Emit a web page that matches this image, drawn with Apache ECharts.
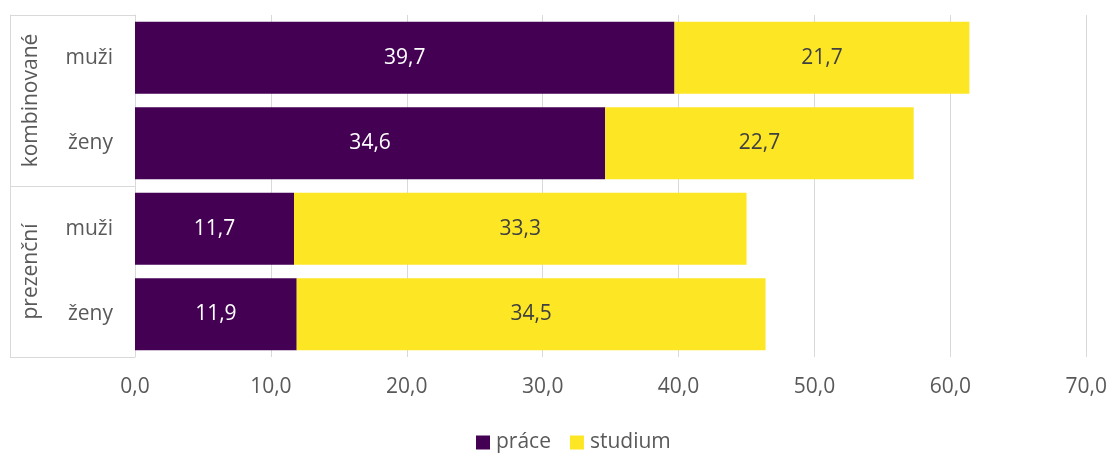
<!DOCTYPE html>
<html><head><meta charset="utf-8">
<script src="https://cdn.jsdelivr.net/npm/echarts@6/dist/echarts.min.js"></script>
<style>html,body{margin:0;padding:0;background:#fff}#c{width:1110px;height:453px}</style>
</head><body><div id="c"></div>
<script>
const categories = ['muži', 'ženy', 'muži', 'ženy'];
const groups = ['kombinované', 'prezenční'];
const prace = [39.7, 34.6, 11.7, 11.9];
const studium = [21.7, 22.7, 33.3, 34.5];
const seriesNames = ['práce', 'studium'];
const FONT = 'Open Sans';
const FS = 21;
const fmt = v => v.toFixed(1).replace('.', ',');
const chart = echarts.init(document.getElementById('c'));
chart.setOption({
  animation: false,
  textStyle: { fontFamily: FONT },
  grid: { left: 135, right: 23, top: 15, bottom: 96, containLabel: false },
  legend: {
    top: 427, left: 471, itemWidth: 14, itemHeight: 14, itemGap: 19,
    icon: 'rect',
    textStyle: { fontFamily: FONT, fontSize: FS, color: '#595959', padding: [0, 0, 0, 1] },
    data: seriesNames
  },
  xAxis: {
    type: 'value', min: 0, max: 70, interval: 10,
    axisLine: { show: false }, axisTick: { show: false },
    splitLine: { lineStyle: { color: '#d9d9d9', width: 1 } },
    axisLabel: { formatter: fmt, color: '#595959', fontSize: FS, margin: 20, fontFamily: FONT }
  },
  yAxis: [{
    type: 'category', data: categories, inverse: true,
    axisLine: { show: true, lineStyle: { color: '#d9d9d9' } },
    axisTick: { show: false },
    axisLabel: { color: '#595959', fontSize: FS, margin: 22, fontFamily: FONT, interval: 0 }
  }, {
    type: 'category', data: groups, inverse: true, position: 'left', offset: 125,
    axisLine: { show: true, lineStyle: { color: '#d9d9d9' } },
    axisTick: { show: true, inside: true, length: 125, interval: 0, lineStyle: { color: '#d9d9d9' } },
    axisLabel: { inside: true, rotate: 90, interval: 0, hideOverlap: false, color: '#595959', fontSize: FS, margin: 11, fontFamily: FONT, verticalAlign: 'top', align: 'center' }
  }],
  series: [{
    name: seriesNames[0], type: 'bar', stack: 's', data: prace, yAxisIndex: 0,
    barCategoryGap: '16%',
    itemStyle: { color: '#440154' },
    label: { show: true, position: 'inside', color: '#ffffff', fontSize: FS, fontFamily: FONT, formatter: p => fmt(p.value) }
  }, {
    name: seriesNames[1], type: 'bar', stack: 's', data: studium, yAxisIndex: 0,
    barCategoryGap: '16%',
    itemStyle: { color: '#FDE725' },
    label: { show: true, position: 'inside', color: '#404040', fontSize: FS, fontFamily: FONT, formatter: p => fmt(p.value) }
  }]
});
</script></body></html>
